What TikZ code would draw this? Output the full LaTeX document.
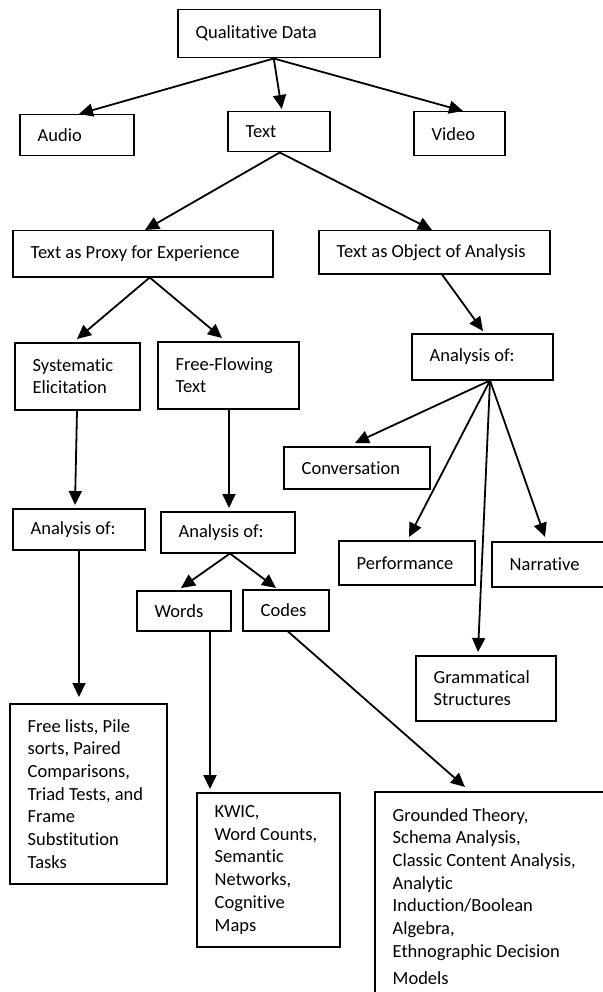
\documentclass[tikz,border=0pt]{standalone}
\usepackage{fontspec}
\setmainfont{Carlito}[Ligatures={NoCommon}]
\usetikzlibrary{arrows.meta}
\begin{document}
\begin{tikzpicture}[x=1pt,y=-1pt,
  box/.style={draw, line width=1.5pt, anchor=north west, inner sep=0pt},
  lbl/.style={anchor=west, align=left, inner sep=0pt, font=\fontsize{18.5}{22.7}\selectfont},
  arr/.style={line width=1.8pt, -{Triangle[length=14pt,width=13pt]}}]
\fill[white] (0,0) rectangle (602,992);
\useasboundingbox (0,0) rectangle (602,992);

% boxes
\node[box, minimum width=202pt, minimum height=48pt] (qd) at (177,9) {};
\node[box, minimum width=114pt, minimum height=41pt] (audio) at (19,114) {};
\node[box, minimum width=102pt, minimum height=40pt] (text) at (227,111) {};
\node[box, minimum width=91pt, minimum height=44pt] (video) at (413,111) {};
\node[box, minimum width=260pt, minimum height=46pt] (proxy) at (12,230) {};
\node[box, minimum width=231pt, minimum height=43pt] (object) at (318,230) {};
\node[box, minimum width=125pt, minimum height=67pt] (syst) at (14,342) {};
\node[box, minimum width=141pt, minimum height=67pt] (free) at (157,341) {};
\node[box, minimum width=141pt, minimum height=46pt] (anR) at (411,333) {};
\node[box, minimum width=132pt, minimum height=41pt] (anL) at (12,508) {};
\node[box, minimum width=134pt, minimum height=41pt] (anM) at (160,511) {};
\node[box, minimum width=146pt, minimum height=42pt] (conv) at (283,446) {};
\node[box, minimum width=136pt, minimum height=44pt] (perf) at (338,540) {};
\node[box, minimum width=115pt, minimum height=45pt] (narr) at (491,541) {};
\node[box, minimum width=94pt, minimum height=40pt] (words) at (136,590) {};
\node[box, minimum width=86pt, minimum height=41pt] (codes) at (242,589) {};
\node[box, minimum width=140pt, minimum height=65pt] (gram) at (415,655) {};
\node[box, minimum width=157pt, minimum height=180pt] (lists) at (9,703) {};
\node[box, minimum width=143pt, minimum height=154pt] (kwic) at (196,792) {};
\node[box, minimum width=238pt, minimum height=209pt] (grounded) at (374,791) {};

% labels
\node[lbl] (qdt) at ([xshift=18.5pt]qd.west) {Qualitative Data};
\node[lbl] (audiot) at ([xshift=18.5pt]audio.west) {Audio};
\node[lbl] (textt) at ([xshift=18.5pt]text.west) {Text};
\node[lbl] (videot) at ([xshift=18.5pt]video.west) {Video};
\node[lbl] (proxyt) at ([xshift=18.5pt]proxy.west) {Text as Proxy for Experience};
\node[lbl] (objectt) at ([xshift=18.5pt]object.west) {Text as Object of Analysis};
\node[lbl] (systt) at ([xshift=18.5pt]syst.west) {Systematic\\Elicitation};
\node[lbl] (freet) at ([xshift=18.5pt]free.west) {Free-Flowing\\Text};
\node[lbl] (anRt) at ([xshift=18.5pt]anR.west) {Analysis of:};
\node[lbl] (anLt) at ([xshift=18.5pt]anL.west) {Analysis of:};
\node[lbl] (anMt) at ([xshift=18.5pt]anM.west) {Analysis of:};
\node[lbl] (convt) at ([xshift=18.5pt]conv.west) {Conversation};
\node[lbl] (perft) at ([xshift=18.5pt]perf.west) {Performance};
\node[lbl] (narrt) at ([xshift=18.5pt]narr.west) {Narrative};
\node[lbl] (wordst) at ([xshift=18.5pt]words.west) {Words};
\node[lbl] (codest) at ([xshift=18.5pt]codes.west) {Codes};
\node[lbl] (gramt) at ([xshift=18.5pt]gram.west) {Grammatical\\Structures};
\node[lbl] (listst) at ([xshift=18.5pt]lists.west) {Free lists, Pile\\sorts, Paired\\Comparisons,\\Triad Tests, and\\Frame\\Substitution\\Tasks};
\node[lbl] (kwict) at ([xshift=18.5pt]kwic.west) {KWIC,\\Word Counts,\\Semantic\\Networks,\\Cognitive\\Maps};
\node[lbl] (groundedt) at ([xshift=18.5pt]grounded.west) {Grounded Theory,\\Schema Analysis,\\Classic Content Analysis,\\Analytic\\Induction/Boolean\\Algebra,\\Ethnographic Decision\\[4pt]Models};

% connectors
\draw[arr] ([xshift=-5pt]qd.south) -- ([xshift=60pt]audio.north west);
\draw[arr] ([xshift=-5pt]qd.south) -- ([xshift=3pt,yshift=2pt]text.north);
\draw[arr] ([xshift=-5pt]qd.south) -- ([xshift=50pt]video.north west);
\draw[arr] ([xshift=1pt]text.south) -- ([xshift=133pt]proxy.north west);
\draw[arr] ([xshift=1pt]text.south) -- ([xshift=114pt]object.north west);
\draw[arr] ([xshift=7pt]proxy.south) -- ([xshift=63pt,yshift=3pt]syst.north west);
\draw[arr] ([xshift=7pt]proxy.south) -- ([xshift=65pt,yshift=3pt]free.north west);
\draw[arr] ([xshift=124pt]object.south west) -- ([xshift=72pt,yshift=2pt]anR.north west);
\draw[arr] ([xshift=63pt]syst.south west) -- ([xshift=63pt,yshift=3pt]anL.north west);
\draw[arr] ([xshift=72pt]free.south west) -- ([xshift=69pt,yshift=3pt]anM.north west);
\draw[arr] ([xshift=67pt]anL.south west) -- ([xshift=70pt,yshift=6pt]lists.north west);
\draw[arr] ([xshift=70pt]anM.south west) -- ([xshift=45pt,yshift=2pt]words.north west);
\draw[arr] ([xshift=70pt]anM.south west) -- ([xshift=34pt,yshift=1pt]codes.north west);
\draw[arr] ([xshift=74pt]words.south west) -- ([xshift=14pt,yshift=3pt]kwic.north west);
\draw[arr] ([xshift=46pt]codes.south west) -- ([xshift=91pt,yshift=4pt]grounded.north west);
\draw[arr] ([xshift=79pt]anR.south west) -- ([xshift=72pt,yshift=3pt]conv.north west);
\draw[arr] ([xshift=79pt]anR.south west) -- ([xshift=71pt,yshift=3pt]perf.north west);
\draw[arr] ([xshift=79pt]anR.south west) -- ([xshift=54pt,yshift=4pt]narr.north west);
\draw[arr] ([xshift=79pt]anR.south west) -- ([xshift=63pt,yshift=3pt]gram.north west);
\end{tikzpicture}
\end{document}
